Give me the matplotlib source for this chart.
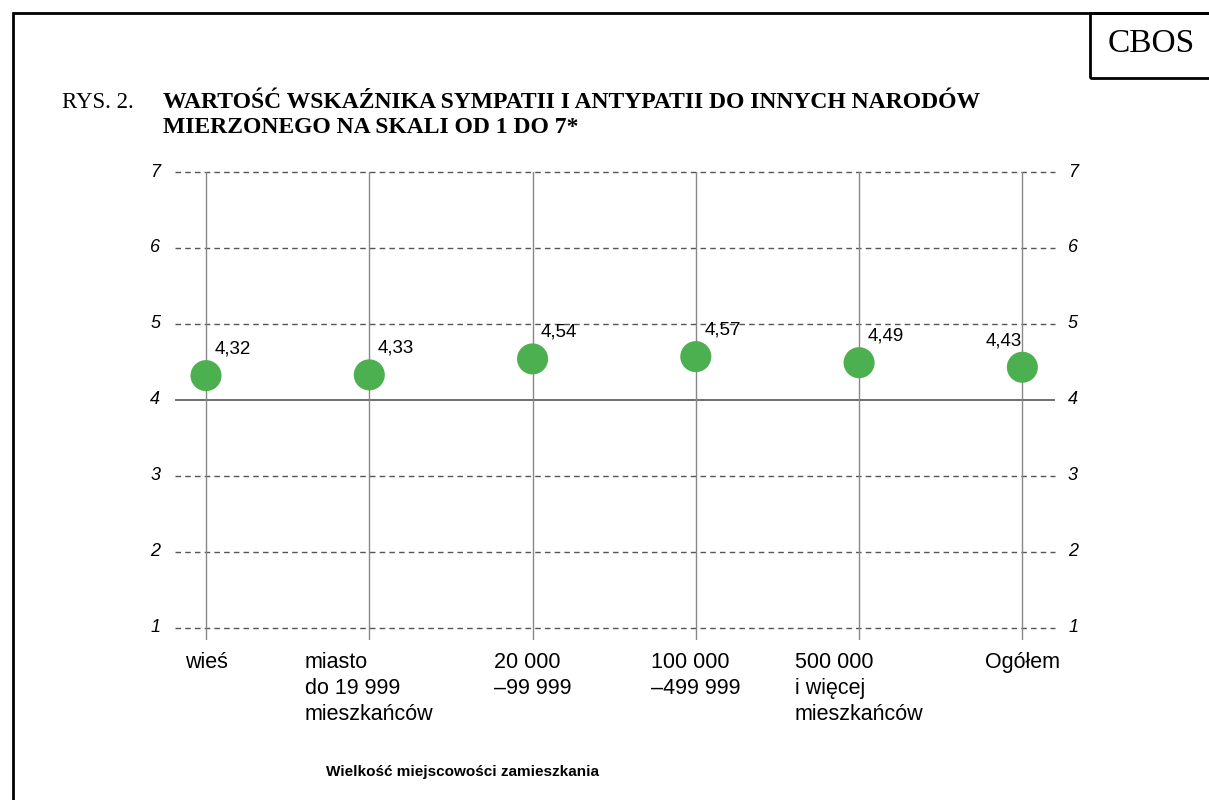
import matplotlib.pyplot as plt
from matplotlib.patches import Rectangle

categories = ['wieś', 'miasto\ndo 19 999\nmieszkańców', '20 000\n–99 999',
              '100 000\n–499 999', '500 000\ni więcej\nmieszkańców', 'Ogółem']
values = [4.32, 4.33, 4.54, 4.57, 4.49, 4.43]
labels = ['4,32', '4,33', '4,54', '4,57', '4,49', '4,43']
yticks = [1, 2, 3, 4, 5, 6, 7]

W, H = 1209, 800
fig = plt.figure(figsize=(W / 100, H / 100), dpi=100)

# ramka wokół rysunku i pole CBOS
fig.add_artist(Rectangle((13 / W, -0.05), 1.2, 1 - 13 / H + 0.05, transform=fig.transFigure,
                         fill=False, edgecolor='black', linewidth=2))
fig.add_artist(Rectangle((1090 / W, 1 - 78 / H), 0.2, 65 / H, transform=fig.transFigure,
                         fill=False, edgecolor='black', linewidth=2))
fig.text(1151 / W, 1 - 44 / H, 'CBOS', family='Liberation Serif', fontsize=24,
         ha='center', va='center')

# tytuł
fig.text(62 / W, 1 - 102 / H, 'RYS. 2.', family='Liberation Serif', fontsize=16.5,
         ha='left', va='center')
fig.text(163 / W, 1 - 115 / H, 'WARTOŚĆ WSKAŹNIKA SYMPATII I ANTYPATII DO INNYCH NARODÓW\n'
         'MIERZONEGO NA SKALI OD 1 DO 7*', family='Liberation Serif', fontweight='bold',
         fontsize=17, ha='left', va='center', linespacing=1.3)

ax = fig.add_axes([175 / W, 1 - 640 / H, 880 / W, 468 / H])
x = list(range(len(categories)))
ax.set_xlim(-0.19, 5.2)
ax.set_ylim(0.84, 7.0)

for v in yticks:
    if v == 4:
        ax.axhline(v, color='#555555', linewidth=1.2, zorder=1)
    else:
        ax.axhline(v, color='#555555', linewidth=1, linestyle=(0, (4, 3)), zorder=1, clip_on=False)
    ax.text(-0.19 - 0.09, v, str(v), ha='right', va='center', fontsize=13,
            style='italic', family='Liberation Sans')
    ax.text(5.2 + 0.08, v, str(v), ha='left', va='center', fontsize=13,
            style='italic', family='Liberation Sans')

for xi in x:
    ax.axvline(xi, color='#888888', linewidth=1, zorder=1)

ax.scatter(x, values, s=500, color='#4caf50', edgecolors='none', zorder=3)

for xi, v, lab in zip(x, values, labels):
    if xi == len(x) - 1:
        ax.annotate(lab, (xi, v), xytext=(0, 19), textcoords='offset points',
                    ha='right', va='center', fontsize=13.5, family='Liberation Sans')
    else:
        ax.annotate(lab, (xi, v), xytext=(6, 19.5), textcoords='offset points',
                    ha='left', va='center', fontsize=13.5, family='Liberation Sans')

for xi, cat in zip(x, categories):
    ax.text(xi, 0.68, cat, ha='center', va='top', multialignment='left',
            fontsize=15.5, family='Liberation Sans', linespacing=1.3)

for s in ax.spines.values():
    s.set_visible(False)
ax.set_xticks([])
ax.set_yticks([])

fig.text(463 / W, 1 - 772 / H, 'Wielkość miejscowości zamieszkania', ha='center', va='center',
         fontsize=11, fontweight='bold', family='Liberation Sans')

fig.savefig('out.png', dpi=100)
